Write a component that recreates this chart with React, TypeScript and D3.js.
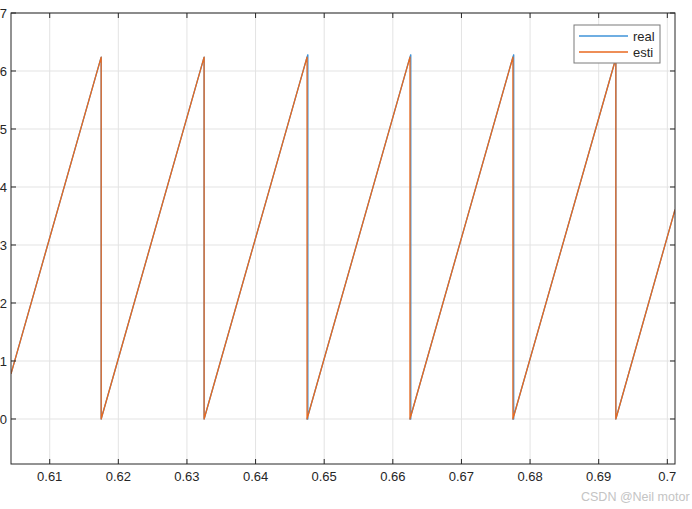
import React from 'react';
import * as d3 from 'd3';

// sawtooth vertices (time, angle in rad)
const realT = [0.60436, 0.6175, 0.6175, 0.6325, 0.6325, 0.6475, 0.64762, 0.64762, 0.6475, 0.6625, 0.66262, 0.66262, 0.6625, 0.6775, 0.67762, 0.67762, 0.6775, 0.6925, 0.6925, 0.70112];
const realV = [0.78, 6.24, 0, 6.24, 0, 6.24, 6.28, 0, 0, 6.24, 6.28, 0, 0, 6.24, 6.28, 0, 0, 6.22, 0, 3.61];
const estiT = [0.60436, 0.6175, 0.6175, 0.6325, 0.6325, 0.6475, 0.6475, 0.6625, 0.6625, 0.6775, 0.6775, 0.6925, 0.6925, 0.70112];
const estiV = [0.78, 6.24, 0, 6.24, 0, 6.24, 0, 6.24, 0, 6.24, 0, 6.22, 0, 3.61];

const xTicks = [0.61, 0.62, 0.63, 0.64, 0.65, 0.66, 0.67, 0.68, 0.69, 0.7];
const xTickLabels = ['0.61', '0.62', '0.63', '0.64', '0.65', '0.66', '0.67', '0.68', '0.69', '0.7'];
const yTicks = [0, 1, 2, 3, 4, 5, 6, 7];
const seriesNames = ['real', 'esti'];
const colors = ['#3f93d8', '#e8691f'];

const W = 692;
const H = 509;
const plot = { left: 11, right: 675, top: 13, bottom: 464 };
const font = '"Liberation Sans", Arial, sans-serif';

export default function App() {
  const x = d3.scaleLinear().domain([0.60436, 0.70112]).range([plot.left, plot.right]);
  const y = d3.scaleLinear().domain([-0.776, 7]).range([plot.bottom, plot.top]);

  const line = d3.line<[number, number]>()
    .x(d => x(d[0]))
    .y(d => y(d[1]));

  const series = [
    realT.map((t, i) => [t, realV[i]] as [number, number]),
    estiT.map((t, i) => [t, estiV[i]] as [number, number]),
  ];

  const axisColor = '#262626';
  const gridColor = '#e3e3e3';
  const tickLen = 5;

  return (
    <svg width={W} height={H} style={{ position: 'absolute', left: 0, top: 0, background: '#fff' }}>
      <defs>
        <clipPath id="plotClip">
          <rect x={plot.left} y={plot.top} width={plot.right - plot.left} height={plot.bottom - plot.top} />
        </clipPath>
      </defs>
      <rect x={0} y={0} width={W} height={H} fill="#fff" />

      {/* grid */}
      {xTicks.map(t => (
        <line key={'gx' + t} x1={x(t)} x2={x(t)} y1={plot.top} y2={plot.bottom} stroke={gridColor} strokeWidth={1} />
      ))}
      {yTicks.map(t => (
        <line key={'gy' + t} x1={plot.left} x2={plot.right} y1={y(t)} y2={y(t)} stroke={gridColor} strokeWidth={1} />
      ))}

      {/* data */}
      <g clipPath="url(#plotClip)">
        {series.map((s, i) => (
          <path key={i} d={line(s) || ''} fill="none" stroke={colors[i]} strokeWidth={1.3} strokeLinejoin="round" />
        ))}
      </g>

      {/* box */}
      <rect x={plot.left} y={plot.top} width={plot.right - plot.left} height={plot.bottom - plot.top}
        fill="none" stroke={axisColor} strokeWidth={1} />

      {/* ticks */}
      {xTicks.map((t, i) => (
        <g key={'tx' + t}>
          <line x1={x(t)} x2={x(t)} y1={plot.bottom} y2={plot.bottom - tickLen} stroke={axisColor} />
          <line x1={x(t)} x2={x(t)} y1={plot.top} y2={plot.top + tickLen} stroke={axisColor} />
          <text x={x(t)} y={plot.bottom + 17} textAnchor="middle" fontFamily={font} fontSize={13} fill={axisColor}>
            {xTickLabels[i]}
          </text>
        </g>
      ))}
      {yTicks.map(t => (
        <g key={'ty' + t}>
          <line x1={plot.left} x2={plot.left + tickLen} y1={y(t)} y2={y(t)} stroke={axisColor} />
          <line x1={plot.right} x2={plot.right - tickLen} y1={y(t)} y2={y(t)} stroke={axisColor} />
          <text x={plot.left - 4} y={y(t)} dy="0.35em" textAnchor="end" fontFamily={font} fontSize={13} fill={axisColor}>
            {t}
          </text>
        </g>
      ))}

      {/* legend */}
      <g>
        <rect x={574} y={25} width={86} height={38} fill="#fff" stroke="#7a7a7a" strokeWidth={1} />
        {seriesNames.map((name, i) => (
          <g key={name}>
            <line x1={579} x2={628} y1={36 + i * 16} y2={36 + i * 16} stroke={colors[i]} strokeWidth={1.3} />
            <text x={633} y={36 + i * 16} dy="0.35em" fontFamily={font} fontSize={13} fill={axisColor}>{name}</text>
          </g>
        ))}
      </g>

      {/* watermark */}
      <text x={581} y={501} fontFamily={font} fontSize={12.5} fill="#c4c4c4">CSDN @Neil motor</text>
    </svg>
  );
}
